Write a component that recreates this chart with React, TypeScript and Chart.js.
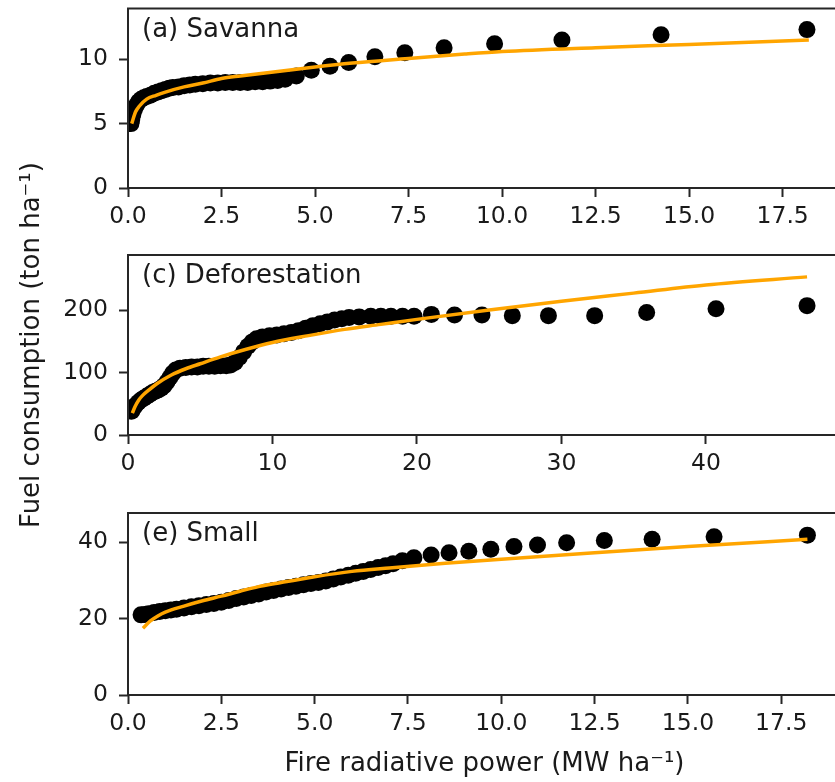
import React, { useEffect, useRef } from 'react';
import { Chart, registerables } from 'chart.js';

Chart.register(...registerables);

const FONT = "'DejaVu Sans', sans-serif";

// ---- (a) Savanna ----
const savannaX = [0.08, 0.1, 0.13, 0.17, 0.22, 0.28, 0.35, 0.42, 0.5, 0.6, 0.7, 0.8, 0.9, 1.0, 1.1, 1.2, 1.35, 1.5, 1.65, 1.8, 2.0, 2.2, 2.4, 2.6, 2.8, 3.0, 3.2, 3.4, 3.6, 3.8, 4.0, 4.2, 4.5, 4.9, 5.4, 5.9, 6.6, 7.4, 8.45, 9.8, 11.6, 14.25, 18.15];
const savannaY = [5.0, 5.3, 5.7, 6.1, 6.4, 6.7, 6.9, 7.0, 7.1, 7.2, 7.35, 7.45, 7.55, 7.65, 7.75, 7.8, 7.85, 7.95, 8.0, 8.05, 8.1, 8.15, 8.15, 8.2, 8.2, 8.2, 8.2, 8.25, 8.25, 8.3, 8.35, 8.45, 8.7, 9.15, 9.45, 9.75, 10.2, 10.5, 10.9, 11.2, 11.5, 11.9, 12.3];
const savannaFitX = [0.1, 0.2, 0.3, 0.5, 0.75, 1, 1.5, 2, 2.5, 3, 4, 5, 6, 7.5, 9, 10, 12.5, 15, 18.2];
const savannaFitY = [5.0, 5.9, 6.35, 6.9, 7.2, 7.45, 7.85, 8.15, 8.5, 8.7, 9.05, 9.4, 9.7, 10.05, 10.4, 10.6, 10.9, 11.15, 11.5];

// ---- (c) Deforestation ----
const deforX = [0.25, 0.35, 0.5, 0.7, 0.9, 1.1, 1.3, 1.5, 1.7, 1.9, 2.1, 2.3, 2.5, 2.7, 2.9, 3.1, 3.3, 3.6, 4.0, 4.4, 4.8, 5.2, 5.6, 6.0, 6.4, 6.8, 7.1, 7.4, 7.7, 8.0, 8.3, 8.6, 8.9, 9.3, 9.8, 10.3, 10.8, 11.3, 11.8, 12.3, 12.8, 13.3, 13.8, 14.3, 14.8, 15.3, 16.0, 16.8, 17.5, 18.2, 19.0, 19.8, 21.0, 22.6, 24.5, 26.6, 29.1, 32.3, 35.9, 40.7, 47.0];
const deforY = [38, 42, 47, 52, 56, 59, 62, 65, 68, 70, 72, 75, 79, 85, 92, 99, 104, 107, 108, 109, 109, 110, 110, 110, 111, 111, 112, 116, 124, 133, 142, 149, 154, 157, 159, 160, 162, 164, 167, 171, 175, 178, 181, 184, 186, 188, 189, 190, 190, 190, 190, 190, 193, 192, 192, 191, 191, 191, 196, 202, 207];
const deforFitX = [0.3, 0.5, 0.75, 1, 1.5, 2, 3, 4, 5, 6.4, 8, 10, 12.5, 15, 17.5, 20, 25, 30, 35, 40, 47];
const deforFitY = [35, 46, 56, 63, 73, 82, 96, 106, 114, 125, 136, 148, 159, 169, 177, 185, 200, 214, 227, 240, 253];

// ---- (e) Small ----
const smallX = [0.35, 0.45, 0.55, 0.7, 0.85, 1.0, 1.15, 1.3, 1.5, 1.7, 1.9, 2.1, 2.3, 2.5, 2.7, 2.9, 3.1, 3.3, 3.5, 3.7, 3.9, 4.1, 4.3, 4.5, 4.7, 4.9, 5.1, 5.3, 5.5, 5.7, 5.9, 6.1, 6.3, 6.5, 6.7, 6.9, 7.1, 7.35, 7.66, 8.12, 8.6, 9.13, 9.72, 10.34, 10.97, 11.75, 12.76, 14.04, 15.7, 18.2];
const smallY = [21.0, 21.1, 21.3, 21.6, 21.9, 22.1, 22.3, 22.5, 22.8, 23.1, 23.4, 23.7, 24.0, 24.3, 24.8, 25.3, 25.7, 26.1, 26.5, 27.0, 27.4, 27.8, 28.2, 28.5, 28.9, 29.2, 29.5, 29.9, 30.4, 30.9, 31.4, 31.9, 32.4, 32.9, 33.4, 33.9, 34.4, 35.2, 36.0, 36.7, 37.3, 37.7, 38.2, 38.9, 39.3, 39.9, 40.5, 40.8, 41.5, 41.9];
const smallFitX = [0.4, 0.6, 0.8, 1.0, 1.5, 2, 2.5, 3, 3.5, 4, 5, 6, 7, 8.5, 10, 12.5, 15, 18.2];
const smallFitY = [17.5, 19.4, 20.7, 21.7, 23.3, 24.7, 25.9, 27.2, 28.4, 29.3, 31.0, 32.4, 33.3, 34.5, 35.6, 37.3, 38.9, 40.8];

// ---- ticks / labels ----
const frpTicks = [0, 2.5, 5, 7.5, 10, 12.5, 15, 17.5];
const deforXTicks = [0, 10, 20, 30, 40];
const savannaYTicks = [0, 5, 10];
const deforYTicks = [0, 100, 200];
const smallYTicks = [0, 20, 40];
const yAxisTitle = 'Fuel consumption (ton ha\u207B\u00B9)';
const xAxisTitle = 'Fire radiative power (MW ha\u207B\u00B9)';

type PanelCfg = {
  areaTop: number;
  areaBottom: number;
  xAxisH: number;
  xMax: number;
  yMax: number;
  xTicks: number[];
  yTicks: number[];
  xDecimals: number;
  label: string;
  px: number[];
  py: number[];
  fx: number[];
  fy: number[];
  yTitle?: string;
  xTitle?: string;
};

const CANVAS_W = 850;
const CANVAS_H = 782;

const panels: PanelCfg[] = [
  { areaTop: 7, areaBottom: 188, xAxisH: 42, xMax: 19.06, yMax: 13.94, xTicks: frpTicks, yTicks: savannaYTicks, xDecimals: 1, label: '(a) Savanna', px: savannaX, py: savannaY, fx: savannaFitX, fy: savannaFitY },
  { areaTop: 255, areaBottom: 435, xAxisH: 40, xMax: 49.35, yMax: 288, xTicks: deforXTicks, yTicks: deforYTicks, xDecimals: 0, label: '(c) Deforestation', px: deforX, py: deforY, fx: deforFitX, fy: deforFitY, yTitle: yAxisTitle },
  { areaTop: 513, areaBottom: 695, xAxisH: 87, xMax: 19.1, yMax: 47.7, xTicks: frpTicks, yTicks: smallYTicks, xDecimals: 1, label: '(e) Small', px: smallX, py: smallY, fx: smallFitX, fy: smallFitY, xTitle: xAxisTitle },
];

function framePlugin(label: string) {
  return {
    id: 'frameAndLabel',
    afterDraw(chart: any) {
      const { ctx, chartArea } = chart;
      const { left, top, right, bottom } = chartArea;
      ctx.save();
      ctx.strokeStyle = '#262626';
      ctx.lineWidth = 2;
      ctx.strokeRect(left, top, right - left, bottom - top);
      ctx.font = `26px ${FONT}`;
      ctx.fillStyle = '#1a1a1a';
      ctx.textAlign = 'left';
      ctx.textBaseline = 'alphabetic';
      ctx.fillText(label, left + 14, top + 28);
      ctx.restore();
    },
  };
}

function Panel({ cfg }: { cfg: PanelCfg }) {
  const ref = useRef<HTMLCanvasElement | null>(null);
  useEffect(() => {
    if (!ref.current) return;
    const pts = cfg.px.map((x, i) => ({ x, y: cfg.py[i] }));
    const fit = cfg.fx.map((x, i) => ({ x, y: cfg.fy[i] }));
    const tickFont = { size: 23.5, family: FONT };
    const titleFont = { size: 26, family: FONT };
    const gridOpts = {
      drawOnChartArea: false,
      drawTicks: true,
      tickLength: 9,
      tickWidth: 2,
      tickColor: '#262626',
    };
    const chart = new Chart(ref.current, {
      type: 'scatter',
      data: {
        datasets: [
          {
            type: 'line',
            data: fit,
            borderColor: '#FFA500',
            borderWidth: 3.5,
            pointRadius: 0,
            fill: false,
            cubicInterpolationMode: 'monotone',
            order: 0,
          } as any,
          {
            type: 'scatter',
            data: pts,
            backgroundColor: '#000000',
            borderColor: '#000000',
            borderWidth: 0,
            pointRadius: 8.5,
            order: 1,
          } as any,
        ],
      },
      options: {
        responsive: false,
        animation: false,
        events: [],
        layout: {
          padding: {
            top: cfg.areaTop,
            right: 9,
            bottom: CANVAS_H - cfg.areaBottom - cfg.xAxisH,
            left: 0,
          },
        },
        plugins: { legend: { display: false }, tooltip: { enabled: false } },
        scales: {
          x: {
            type: 'linear',
            min: 0,
            max: cfg.xMax,
            afterBuildTicks: (s: any) => {
              s.ticks = cfg.xTicks.map((v) => ({ value: v }));
            },
            afterFit: (s: any) => {
              s.height = cfg.xAxisH;
              s.paddingLeft = 0;
              s.paddingRight = 0;
            },
            ticks: {
              font: tickFont,
              color: '#1a1a1a',
              padding: 6,
              maxRotation: 0,
              autoSkip: false,
              callback: (v: any) => Number(v).toFixed(cfg.xDecimals),
            },
            grid: gridOpts,
            border: { display: false },
            title: cfg.xTitle
              ? { display: true, text: cfg.xTitle, font: titleFont, color: '#1a1a1a', padding: { top: 0, bottom: 2 } }
              : { display: false },
          },
          y: {
            type: 'linear',
            min: 0,
            max: cfg.yMax,
            afterBuildTicks: (s: any) => {
              s.ticks = cfg.yTicks.map((v) => ({ value: v }));
            },
            afterFit: (s: any) => {
              s.width = 128;
              s.paddingTop = 0;
              s.paddingBottom = 0;
            },
            ticks: {
              font: tickFont,
              color: '#1a1a1a',
              padding: 11,
              autoSkip: false,
              callback: (v: any) => String(v),
            },
            grid: gridOpts,
            border: { display: false },
            title: cfg.yTitle
              ? { display: true, text: cfg.yTitle, font: titleFont, color: '#1a1a1a', padding: { top: 17, bottom: 0 } }
              : { display: false },
          },
        },
      } as any,
      plugins: [framePlugin(cfg.label)],
    });
    return () => chart.destroy();
  }, [cfg]);
  return (
    <canvas
      ref={ref}
      width={CANVAS_W}
      height={CANVAS_H}
      style={{ position: 'absolute', left: 0, top: 0, display: 'block', width: CANVAS_W, height: CANVAS_H }}
    />
  );
}

export default function App() {
  return (
    <div
      style={{
        position: 'absolute',
        left: 0,
        top: 0,
        width: 835,
        height: 782,
        overflow: 'hidden',
        background: '#ffffff',
      }}
    >
      {panels.map((p, i) => (
        <Panel key={i} cfg={p} />
      ))}
    </div>
  );
}
